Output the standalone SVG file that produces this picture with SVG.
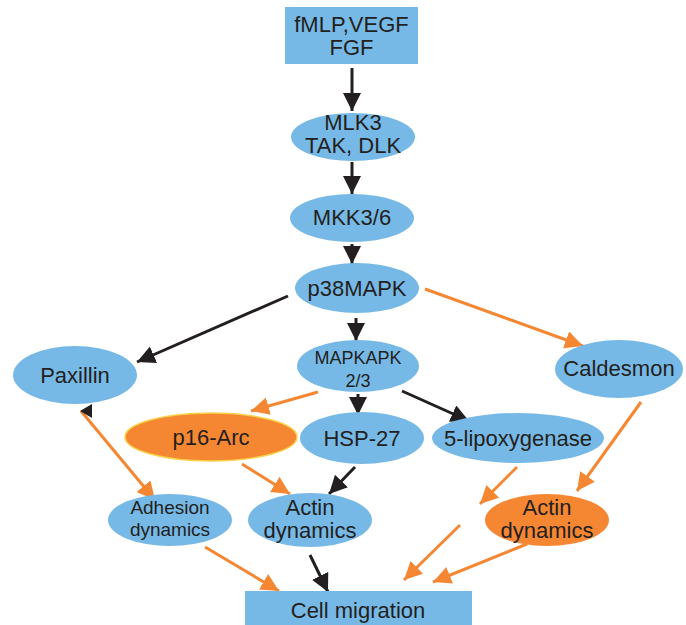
<svg xmlns="http://www.w3.org/2000/svg" width="686" height="625" viewBox="0 0 686 625">
<defs>
<style>
.b{fill:#77b9e6}
.o{fill:#f58733}
.t{font-family:"Liberation Sans",Arial,sans-serif;font-size:22px;fill:#231f20;text-anchor:middle}
.s{font-size:18px}
.m{font-size:19px}
.k{stroke:#231f20;stroke-width:3;fill:none}
.r{stroke:#f58733;stroke-width:3;fill:none}
</style>
<marker id="ak" markerUnits="userSpaceOnUse" markerWidth="20" markerHeight="20" refX="18" refY="9" orient="auto"><path d="M0,0 L18,9 L0,18 z" fill="#231f20"/></marker>
<marker id="ao" markerUnits="userSpaceOnUse" markerWidth="20" markerHeight="20" refX="18" refY="9" orient="auto"><path d="M0,0 L18,9 L0,18 z" fill="#f58733"/></marker>
</defs>
<rect width="686" height="625" fill="#fff"/>
<g id="connectors">
<line class="k" x1="352" y1="68" x2="352" y2="111" marker-end="url(#ak)"/>
<line class="k" x1="352" y1="162" x2="352" y2="194" marker-end="url(#ak)"/>
<line class="k" x1="352" y1="244" x2="352" y2="264" marker-end="url(#ak)"/>
<line class="k" x1="288" y1="296" x2="137" y2="362" marker-end="url(#ak)"/>
<line class="k" x1="356" y1="318" x2="356" y2="341" marker-end="url(#ak)"/>
<line class="r" x1="425" y1="289" x2="583" y2="346" marker-end="url(#ao)"/>
<line class="r" x1="318" y1="392" x2="251" y2="411" marker-end="url(#ao)"/>
<line class="k" x1="358" y1="394" x2="358" y2="415" marker-end="url(#ak)"/>
<line class="k" x1="402" y1="391" x2="469" y2="421" marker-end="url(#ak)"/>
<line class="r" x1="81" y1="411" x2="155" y2="500" marker-end="url(#ao)"/>
<path d="M80,411 L92,404 L92,418 z" fill="#231f20"/>
<line class="r" x1="242" y1="464" x2="290" y2="494" marker-end="url(#ao)"/>
<line class="k" x1="355" y1="467" x2="329" y2="494" marker-end="url(#ak)"/>
<line class="r" x1="517" y1="467" x2="480" y2="504" marker-end="url(#ao)"/>
<line class="r" x1="641" y1="402" x2="577" y2="491" marker-end="url(#ao)"/>
<line class="r" x1="205" y1="547" x2="279" y2="591" marker-end="url(#ao)"/>
<line class="k" x1="310" y1="555" x2="328" y2="592" marker-end="url(#ak)"/>
<line class="r" x1="460" y1="525" x2="404" y2="580" marker-end="url(#ao)"/>
<line class="r" x1="527" y1="544" x2="433" y2="582" marker-end="url(#ao)"/>
</g>
<g id="n_fmlp"><rect class="b" x="285" y="7" width="133" height="57"/><text class="t" x="351.5" y="32">fMLP,VEGF</text><text class="t" x="351.5" y="55">FGF</text></g>
<g id="n_mlk3"><ellipse class="b" cx="353" cy="137" rx="62" ry="24"/><text class="t" x="353" y="130">MLK3</text><text class="t" x="353" y="153">TAK, DLK</text></g>
<g id="n_mkk"><ellipse class="b" cx="352" cy="218" rx="62" ry="24"/><text class="t" x="352" y="225">MKK3/6</text></g>
<g id="n_p38"><ellipse class="b" cx="357" cy="288" rx="62" ry="25"/><text class="t" x="357" y="296">p38MAPK</text></g>
<g id="n_paxillin"><ellipse class="b" cx="75" cy="375" rx="62" ry="29"/><text class="t" x="75" y="383">Paxillin</text></g>
<g id="n_mapkapk"><ellipse class="b" cx="358" cy="366" rx="61" ry="26"/><text class="t s" x="358" y="364">MAPKAPK</text><text class="t s" x="358" y="387">2/3</text></g>
<g id="n_caldesmon"><ellipse class="b" cx="619" cy="369" rx="64" ry="29"/><text class="t" x="619" y="376">Caldesmon</text></g>
<g id="n_p16"><ellipse class="o" cx="211" cy="437" rx="86" ry="24" stroke="#f7d24a" stroke-width="1.5"/><text class="t" x="211" y="445">p16-Arc</text></g>
<g id="n_hsp"><ellipse class="b" cx="362" cy="438" rx="62" ry="26"/><text class="t" x="362" y="446">HSP-27</text></g>
<g id="n_lipox"><ellipse class="b" cx="518" cy="438" rx="86" ry="25"/><text class="t" x="518" y="446">5-lipoxygenase</text></g>
<g id="n_adhesion"><ellipse class="b" cx="170" cy="520" rx="62" ry="26"/><text class="t m" x="170" y="514">Adhesion</text><text class="t m" x="170" y="536">dynamics</text></g>
<g id="n_actin1"><ellipse class="b" cx="310" cy="520" rx="62" ry="27"/><text class="t" x="310" y="515">Actin</text><text class="t" x="310" y="538">dynamics</text></g>
<g id="n_actin2"><ellipse class="o" cx="547" cy="520" rx="62" ry="26"/><text class="t" x="547" y="515">Actin</text><text class="t" x="547" y="538">dynamics</text></g>
<g id="n_cell"><rect class="b" x="245" y="591" width="227" height="40"/><text class="t" x="358" y="618">Cell migration</text></g>
</svg>
